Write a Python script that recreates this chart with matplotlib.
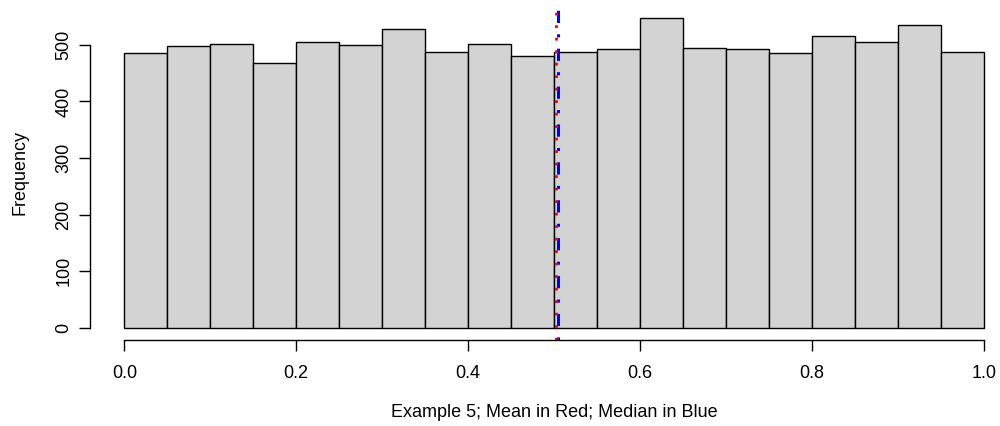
import matplotlib
matplotlib.use("Agg")
import matplotlib.pyplot as plt
import numpy as np

plt.rcParams['font.family'] = ['Liberation Sans', 'DejaVu Sans']

bin_edges = [round(0.05 * i, 2) for i in range(21)]
counts = [486, 498, 502, 468, 506, 500, 529, 488, 502, 480,
          487, 493, 548, 494, 492, 485, 515, 505, 536, 488]
mean_value = 0.5023
median_value = 0.5047
x_ticks = [0.0, 0.2, 0.4, 0.6, 0.8, 1.0]
x_tick_labels = ["0.0", "0.2", "0.4", "0.6", "0.8", "1.0"]
y_ticks = [0, 100, 200, 300, 400, 500]
x_label = "Example 5; Mean in Red; Median in Blue"
y_label = "Frequency"

fig = plt.figure(figsize=(10, 4.26), dpi=100)
ax = fig.add_axes([0.090, 0.2019, 0.928, 0.7854])

ymax = max(counts)
ax.set_xlim(-0.04, 1.04)
ax.set_ylim(-0.04 * ymax, 1.04 * ymax)

ax.bar(bin_edges[:-1], counts, width=np.diff(bin_edges), align='edge',
       color='#D3D3D3', edgecolor='black', linewidth=1.0)

ax.axvline(median_value, color='blue', linestyle=(0, (1, 3.7, 4, 3.7)),
           linewidth=2.2, zorder=2.9)
ax.axvline(mean_value, color='red', linestyle=(0, (1.0, 3.5)), linewidth=2.0,
           zorder=3)

for s in ['top', 'right']:
    ax.spines[s].set_visible(False)
ax.spines['left'].set_bounds(0, 500)
ax.spines['bottom'].set_bounds(0, 1)
ax.spines['left'].set_linewidth(1.0)
ax.spines['bottom'].set_linewidth(1.0)

ax.set_xticks(x_ticks)
ax.set_xticklabels(x_tick_labels)
ax.set_yticks(y_ticks)
ax.set_yticklabels([str(v) for v in y_ticks], rotation=90, va='center')
ax.tick_params(axis='both', direction='out', length=7.8, width=1.0,
               labelsize=13)
ax.tick_params(axis='x', pad=10)
ax.tick_params(axis='y', pad=5)

ax.set_xlabel(x_label, fontsize=13, labelpad=16)
ax.set_ylabel(y_label, fontsize=13, labelpad=19)

fig.savefig("out.png", dpi=100)
